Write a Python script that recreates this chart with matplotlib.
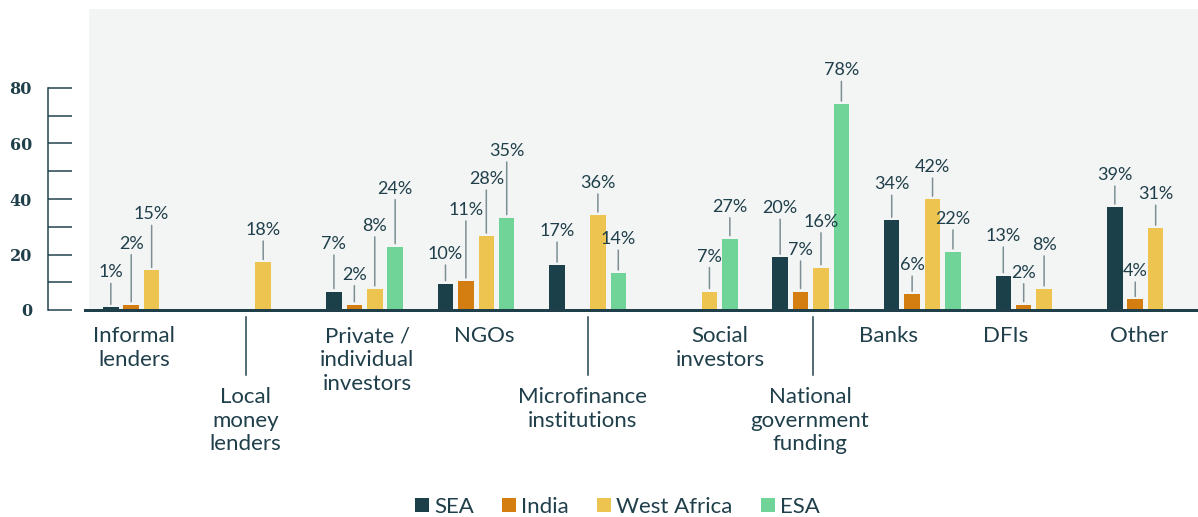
import matplotlib
matplotlib.use("Agg")
import matplotlib.pyplot as plt
import matplotlib.transforms as mtransforms
from matplotlib.patches import Patch
from matplotlib.lines import Line2D

# ---------------- data ----------------
CATEGORIES = ["Informal\nlenders", "Local\nmoney\nlenders", "Private /\nindividual\ninvestors",
              "NGOs", "Microfinance\ninstitutions", "Social\ninvestors",
              "National\ngovernment\nfunding", "Banks", "DFIs", "Other"]
SERIES = ["SEA", "India", "West Africa", "ESA"]
SEA = [1, None, 7, 10, 17, None, 20, 34, 13, 39]
INDIA = [2, None, 2, 11, None, None, 7, 6, 2, 4]
WEST_AFRICA = [15, 18, 8, 28, 36, 7, 16, 42, 8, 31]
ESA = [None, None, 24, 35, 14, 27, 78, 22, None, None]
Y_TICKS = [0, 20, 40, 60, 80]

# ---------------- layout / style ----------------
COLORS = ["#1b404a", "#d47d10", "#edc44f", "#70d498"]
TEXT = "#1f3f4a"
LEADER = "#7d8f95"
BG = "#f3f4f4"
# label lift above bar top (pixels), per series
LIFT = [
    [36, None, 48.5, 30.6, 35, None, 50, 37, 40.7, 33],
    [62, None, 31, 72, None, None, 42.5, 30, 33, 29.4],
    [57, 33.5, 64, 58, 33, 36, 47, 33, 45, 35],
    [None, None, 59, 67.6, 35, 33, 34.7, 34, None, None],
]
CAT_DX = [-7.4, -7.3, 2.5, 8.4, -5.6, 20.8, -0.8, -34.3, -27.9, -5.9]  # px
CAT_DROP = [False, True, False, False, True, False, True, False, False, False]
LINE_DX = [0, -7.3, 0, 0, 0.1, 0, 1.9, 0, 0, 0]

W, H = 1198, 517
fig = plt.figure(figsize=(W / 100, H / 100), dpi=100)
PX = 0.72  # points per pixel

base_px = 310
ax = fig.add_axes([89 / W, (H - base_px) / H, (W - 89) / W, 301 / H])
ax.set_facecolor(BG)
ax.set_xlim(-0.47, 9.471)
ax.set_ylim(0, 301 / 2.64)
for s in ax.spines.values():
    s.set_visible(False)
ax.set_xticks([])
ax.set_yticks([])

pitch = 0.183
width = 0.139
values = [SEA, INDIA, WEST_AFRICA, ESA]
for j, (vals, col) in enumerate(zip(values, COLORS)):
    for i, v in enumerate(vals):
        if v is None:
            continue
        x = i + (j - 1.5) * pitch
        ax.bar(x, v, width=width, color=col, zorder=2)
        lift = LIFT[j][i]
        ax.annotate(f"{v}%", xy=(x, v), xytext=(0, (lift - 6) * PX),
                    textcoords="offset points", ha="center", va="baseline",
                    fontsize=13, family="Lato", color=TEXT, zorder=4)
        ax.annotate("", xy=(x, v), xytext=(0, (lift - 12) * PX),
                    textcoords="offset points",
                    arrowprops=dict(arrowstyle="-", color=LEADER, lw=1.1,
                                    shrinkA=0, shrinkB=3 * PX), zorder=3)

ax.axhline(0, xmin=-4 / (W - 89), xmax=1, color=TEXT, lw=3 * PX, clip_on=False, zorder=5)

# category labels
blend = mtransforms.blended_transform_factory(ax.transData, fig.transFigure)
for i, (lab, dx, drop, ldx) in enumerate(zip(CATEGORIES, CAT_DX, CAT_DROP, LINE_DX)):
    tr = mtransforms.offset_copy(blend, fig=fig, x=dx * PX, y=0, units="points")
    ytop = 326.5 if not drop else 387
    fig.text(i, 1 - ytop / H, lab, transform=tr, ha="center", va="top",
             fontsize=16, family="Lato", color=TEXT, linespacing=1.22)
    if drop:
        trl = mtransforms.offset_copy(blend, fig=fig, x=ldx * PX, y=0, units="points")
        fig.add_artist(Line2D([i, i], [1 - 317 / H, 1 - 375 / H], transform=trl,
                              color=TEXT, lw=1.5 * PX))

# separate y scale
yax = fig.add_axes([48 / W, (H - base_px) / H, 30 / W, 222 / H])
yax.set_facecolor("none")
yax.set_ylim(0, 80)
yax.set_xticks([])
for k in ["top", "right", "bottom"]:
    yax.spines[k].set_visible(False)
yax.spines["left"].set_color(TEXT)
yax.spines["left"].set_linewidth(1.5 * PX)
yax.set_yticks(Y_TICKS)
yax.set_yticks([10, 30, 50, 70], minor=True)
yax.tick_params(axis="y", which="both", direction="in", length=24 * PX,
                width=1.5 * PX, color=TEXT, pad=16 * PX)
yax.set_yticklabels([str(t) for t in Y_TICKS], family="DejaVu Serif",
                    fontweight="bold", fontsize=11.5, color=TEXT)

# legend
handles = [Patch(facecolor=c, edgecolor="none") for c in COLORS]
leg = fig.legend(handles, SERIES, loc="center", bbox_to_anchor=(617.5 / W, 10 / H),
                 ncol=4, frameon=False, handlelength=0.63, handleheight=0.63,
                 handletextpad=0.23, columnspacing=1.26, borderpad=0, borderaxespad=0,
                 prop={"family": "Lato", "size": 16})
for t in leg.get_texts():
    t.set_color(TEXT)

fig.savefig("out.png", dpi=100)
